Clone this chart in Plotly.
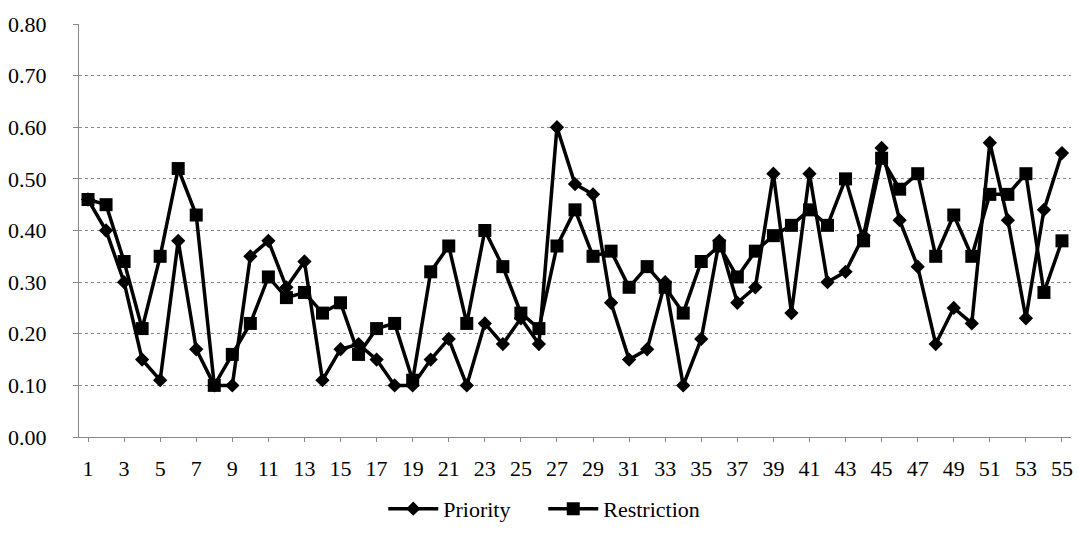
import plotly.graph_objects as go

# categories 1..55
points = list(range(1, 56))

priority = [0.46, 0.40, 0.30, 0.15, 0.11, 0.38, 0.17, 0.10, 0.10, 0.35,
            0.38, 0.29, 0.34, 0.11, 0.17, 0.18, 0.15, 0.10, 0.10, 0.15,
            0.19, 0.10, 0.22, 0.18, 0.23, 0.18, 0.60, 0.49, 0.47, 0.26,
            0.15, 0.17, 0.30, 0.10, 0.19, 0.38, 0.26, 0.29, 0.51, 0.24,
            0.51, 0.30, 0.32, 0.39, 0.56, 0.42, 0.33, 0.18, 0.25, 0.22,
            0.57, 0.42, 0.23, 0.44, 0.55]

restriction = [0.46, 0.45, 0.34, 0.21, 0.35, 0.52, 0.43, 0.10, 0.16, 0.22,
               0.31, 0.27, 0.28, 0.24, 0.26, 0.16, 0.21, 0.22, 0.11, 0.32,
               0.37, 0.22, 0.40, 0.33, 0.24, 0.21, 0.37, 0.44, 0.35, 0.36,
               0.29, 0.33, 0.29, 0.24, 0.34, 0.37, 0.31, 0.36, 0.39, 0.41,
               0.44, 0.41, 0.50, 0.38, 0.54, 0.48, 0.51, 0.35, 0.43, 0.35,
               0.47, 0.47, 0.51, 0.28, 0.38]

x_ticks = list(range(1, 56, 2))
y_ticks = [0.0, 0.1, 0.2, 0.3, 0.4, 0.5, 0.6, 0.7, 0.8]

font_serif = "Times New Roman, Liberation Serif, DejaVu Serif, serif"

fig = go.Figure()

fig.add_trace(go.Scatter(
    x=points, y=priority, name="Priority", mode="lines+markers",
    line=dict(color="black", width=3.5),
    marker=dict(symbol="diamond", size=11, color="black"),
))
fig.add_trace(go.Scatter(
    x=points, y=restriction, name="Restriction", mode="lines+markers",
    line=dict(color="black", width=3.5),
    marker=dict(symbol="square", size=13, color="black"),
))

fig.update_layout(
    width=1078, height=537,
    margin=dict(l=79, r=7, t=24, b=100),
    paper_bgcolor="white", plot_bgcolor="white",
    font=dict(family=font_serif, size=22, color="black"),
    showlegend=True,
    legend=dict(orientation="h", x=0.468, xanchor="center", y=-0.225, yanchor="bottom",
                font=dict(family=font_serif, size=22), itemwidth=50,
                entrywidth=95, entrywidthmode="pixels"),
)

fig.update_xaxes(
    range=[0.5, 55.5], tickvals=x_ticks, ticktext=[str(v) for v in x_ticks],
    showgrid=False, showline=True, linecolor="#888", linewidth=1,
    ticks="outside", ticklen=4, tickcolor="#888", automargin=False,
    tickfont=dict(family=font_serif, size=22), ticklabelstandoff=8,
)
fig.update_yaxes(
    range=[0, 0.8], tickvals=y_ticks, ticktext=["%.2f" % v for v in y_ticks],
    showgrid=True, gridcolor="#888", griddash="dot", gridwidth=1,
    showline=True, linecolor="#888", linewidth=1,
    ticks="outside", ticklen=5, tickcolor="#888", automargin=False,
    zeroline=False, tickfont=dict(family=font_serif, size=22), ticklabelstandoff=22,
)

# page body has a default margin; drop it so the figure fills the window
fig.write_html("out.html", config={"displayModeBar": False},
               post_script="document.body.style.margin='0px';")
